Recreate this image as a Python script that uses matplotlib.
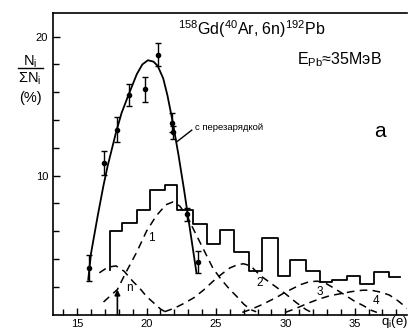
import numpy as np
import matplotlib
matplotlib.use("Agg")
import matplotlib.pyplot as plt

plt.rcParams['font.family'] = ['Liberation Sans', 'DejaVu Sans']
plt.rcParams['mathtext.fontset'] = 'custom'
plt.rcParams['mathtext.rm'] = 'Liberation Sans'
plt.rcParams['mathtext.it'] = 'Liberation Sans:italic'

# measured charge-state points with error bars (q_i, %, err)
pt_q = [15.85, 16.9, 17.85, 18.75, 19.9, 20.8, 21.8, 21.9, 22.9, 23.7]
pt_v = [3.35, 10.9, 13.3, 15.8, 16.2, 18.7, 13.8, 13.1, 7.2, 3.8]
pt_err = [0.95, 0.85, 0.9, 0.8, 0.9, 0.85, 0.7, 0.5, 0.5, 0.8]

# solid curve "с перезарядкой"
c_q = [15.8, 16.0, 16.5, 16.9, 17.2, 17.8, 18.2, 18.7, 19.3, 19.7, 20.1, 20.5, 20.8,
       21.2, 21.5, 21.8, 22.0, 22.3, 22.7, 23.0, 23.3, 23.6]
c_v = [2.5, 4.4, 7.2, 9.3, 10.7, 13.1, 14.5, 15.8, 17.3, 18.0, 18.3, 18.2, 17.9,
       17.0, 15.8, 14.3, 13.2, 11.5, 9.0, 7.0, 5.0, 3.0]

# histogram (bin edges and heights)
h_edges = [17.37, 18.2, 19.3, 20.25, 21.33, 22.18, 23.37, 24.34, 25.3, 26.33, 27.41,
           28.32, 29.45, 30.36, 31.49, 32.48, 33.36, 34.44, 35.4, 36.37, 37.45, 38.29]
h_vals = [6.0, 6.6, 7.5, 8.95, 9.3, 7.5, 6.5, 5.1, 6.05, 4.5, 3.1,
          5.5, 2.8, 3.95, 3.15, 2.35, 2.5, 2.8, 2.2, 3.05, 2.7]
h_start = 3.2

# dashed component curves
n_q = [16.6, 17.2, 17.8, 18.4, 19.0, 19.5, 20.0, 20.5, 21.0, 21.5]
n_v = [3.0, 3.4, 3.5, 3.1, 2.4, 1.9, 1.3, 0.85, 0.4, 0.1]
c1_q = [16.9, 17.9, 18.5, 19.3, 20.0, 20.7, 21.4, 21.9, 22.4, 22.9, 23.5, 24.2,
        24.8, 25.4, 26.0, 26.5, 27.0, 27.5, 27.9]
c1_v = [0.9, 1.8, 3.0, 4.5, 6.0, 7.1, 7.9, 8.1, 7.8, 7.1, 5.9, 4.5,
        3.3, 2.5, 1.8, 1.3, 0.75, 0.35, 0.2]
c2_q = [21.3, 22.0, 22.7, 23.4, 24.1, 24.8, 25.4, 26.0, 26.6, 27.0, 27.5, 28.2,
        29.1, 30.0, 30.8, 31.5, 31.9]
c2_v = [0.2, 0.45, 0.8, 1.2, 1.75, 2.4, 2.9, 3.35, 3.6, 3.65, 3.5, 2.8,
        2.15, 1.5, 0.85, 0.35, 0.15]
c3_q = [26.9, 27.6, 28.3, 28.8, 29.4, 29.9, 30.5, 31.1, 31.7, 32.3, 32.9, 33.5,
        34.3, 35.0, 35.6, 36.2, 36.6]
c3_v = [0.15, 0.4, 0.7, 0.95, 1.25, 1.55, 1.85, 2.15, 2.35, 2.4, 2.25, 1.9,
        1.4, 0.95, 0.65, 0.3, 0.15]
c4_q = [30.0, 30.8, 31.6, 32.4, 33.2, 34.0, 34.8, 35.6, 36.2, 36.9, 37.5, 38.1,
        38.6, 39.0]
c4_v = [0.15, 0.45, 0.8, 1.1, 1.35, 1.5, 1.65, 1.75, 1.75, 1.6, 1.4, 1.0,
        0.6, 0.3]

W, H = 414, 329
fig = plt.figure(figsize=(W / 100, H / 100), dpi=100)
ax = fig.add_axes([53 / W, 1 - 314.5 / H, (407 - 53) / W, (314.5 - 13) / H])

ax.set_xlim(13.26, 38.77)
ax.set_ylim(0, 21.7)

lw = 1.3
ax.plot(c_q, c_v, color='black', lw=lw)
ax.errorbar(pt_q, pt_v, yerr=pt_err, fmt='o', color='black', ms=3,
            elinewidth=1.0, capsize=2, capthick=1.0)

# histogram as steps
hx = [h_edges[0]]
hy = [h_start]
for i in range(len(h_vals)):
    hx += [h_edges[i], h_edges[i + 1]]
    hy += [h_vals[i], h_vals[i]]
ax.plot(hx, hy, color='black', lw=lw)

dash = (0, (5, 3.5))
for q, v in [(n_q, n_v), (c1_q, c1_v), (c2_q, c2_v), (c3_q, c3_v), (c4_q, c4_v)]:
    ax.plot(q, v, color='black', lw=1.1, linestyle=dash)

# arrow at q = 18
ax.annotate('', xy=(17.9, 1.8), xytext=(17.9, 0),
            arrowprops=dict(arrowstyle='-|>', color='black', lw=1.2,
                            mutation_scale=8, shrinkA=0, shrinkB=0))

# curve labels
for s, q, v in [('n', 18.76, 1.9), ('1', 20.37, 5.5), ('2', 28.18, 2.25),
                ('3', 32.45, 1.65), ('4', 36.53, 1.0)]:
    ax.text(q, v, s, fontsize=8.5, ha='center', va='center')

ax.plot([22.18, 23.26], [12.43, 13.27], color='black', lw=1.0)
ax.text(23.5, 13.45, 'с перезарядкой', fontsize=6.8, ha='left', va='center')
ax.text(36.8, 13.2, 'а', fontsize=15, ha='center', va='center')

# axes styling
ax.spines['right'].set_visible(False)
for s in ['left', 'bottom', 'top']:
    ax.spines[s].set_linewidth(1.2)
ax.set_xticks([15, 20, 25, 30, 35])
ax.set_xticks(np.arange(14, 39, 1), minor=True)
ax.set_yticks([10, 20])
ax.set_yticks(np.arange(2, 21, 2), minor=True)
ax.tick_params(which='both', direction='in', top=False, right=False, width=1.0)
ax.tick_params(which='major', length=5, labelsize=8)
ax.tick_params(which='minor', length=4)
ax.tick_params(axis='x', pad=3)

# texts in pixel positions
def ftext(x, y, s, **kw):
    fig.text(x / W, 1 - y / H, s, **kw)

ftext(178, 35, r'$^{\mathrm{158}}$Gd($^{\mathrm{40}}$Ar, 6n)$^{\mathrm{192}}$Pb',
      fontsize=11.5, va='baseline')
ftext(297, 64, r'E$_{\mathrm{Pb}}$≈35МэВ', fontsize=11.5, va='baseline')
ftext(30, 62, r'N$_{\mathrm{i}}$', fontsize=10.5, ha='center', va='center')
fig.add_artist(plt.Line2D([18 / W, 43 / W], [1 - 68 / H, 1 - 68 / H],
                          color='black', lw=1.0))
ftext(30, 79, r'ΣN$_{\mathrm{i}}$', fontsize=10.5, ha='center', va='center')
ftext(30, 98, '(%)', fontsize=10.5, ha='center', va='center')
ftext(381, 322, r'q$_{\mathrm{i}}$(e)', fontsize=9.5, ha='left', va='center')

fig.savefig('out.png', dpi=100)
